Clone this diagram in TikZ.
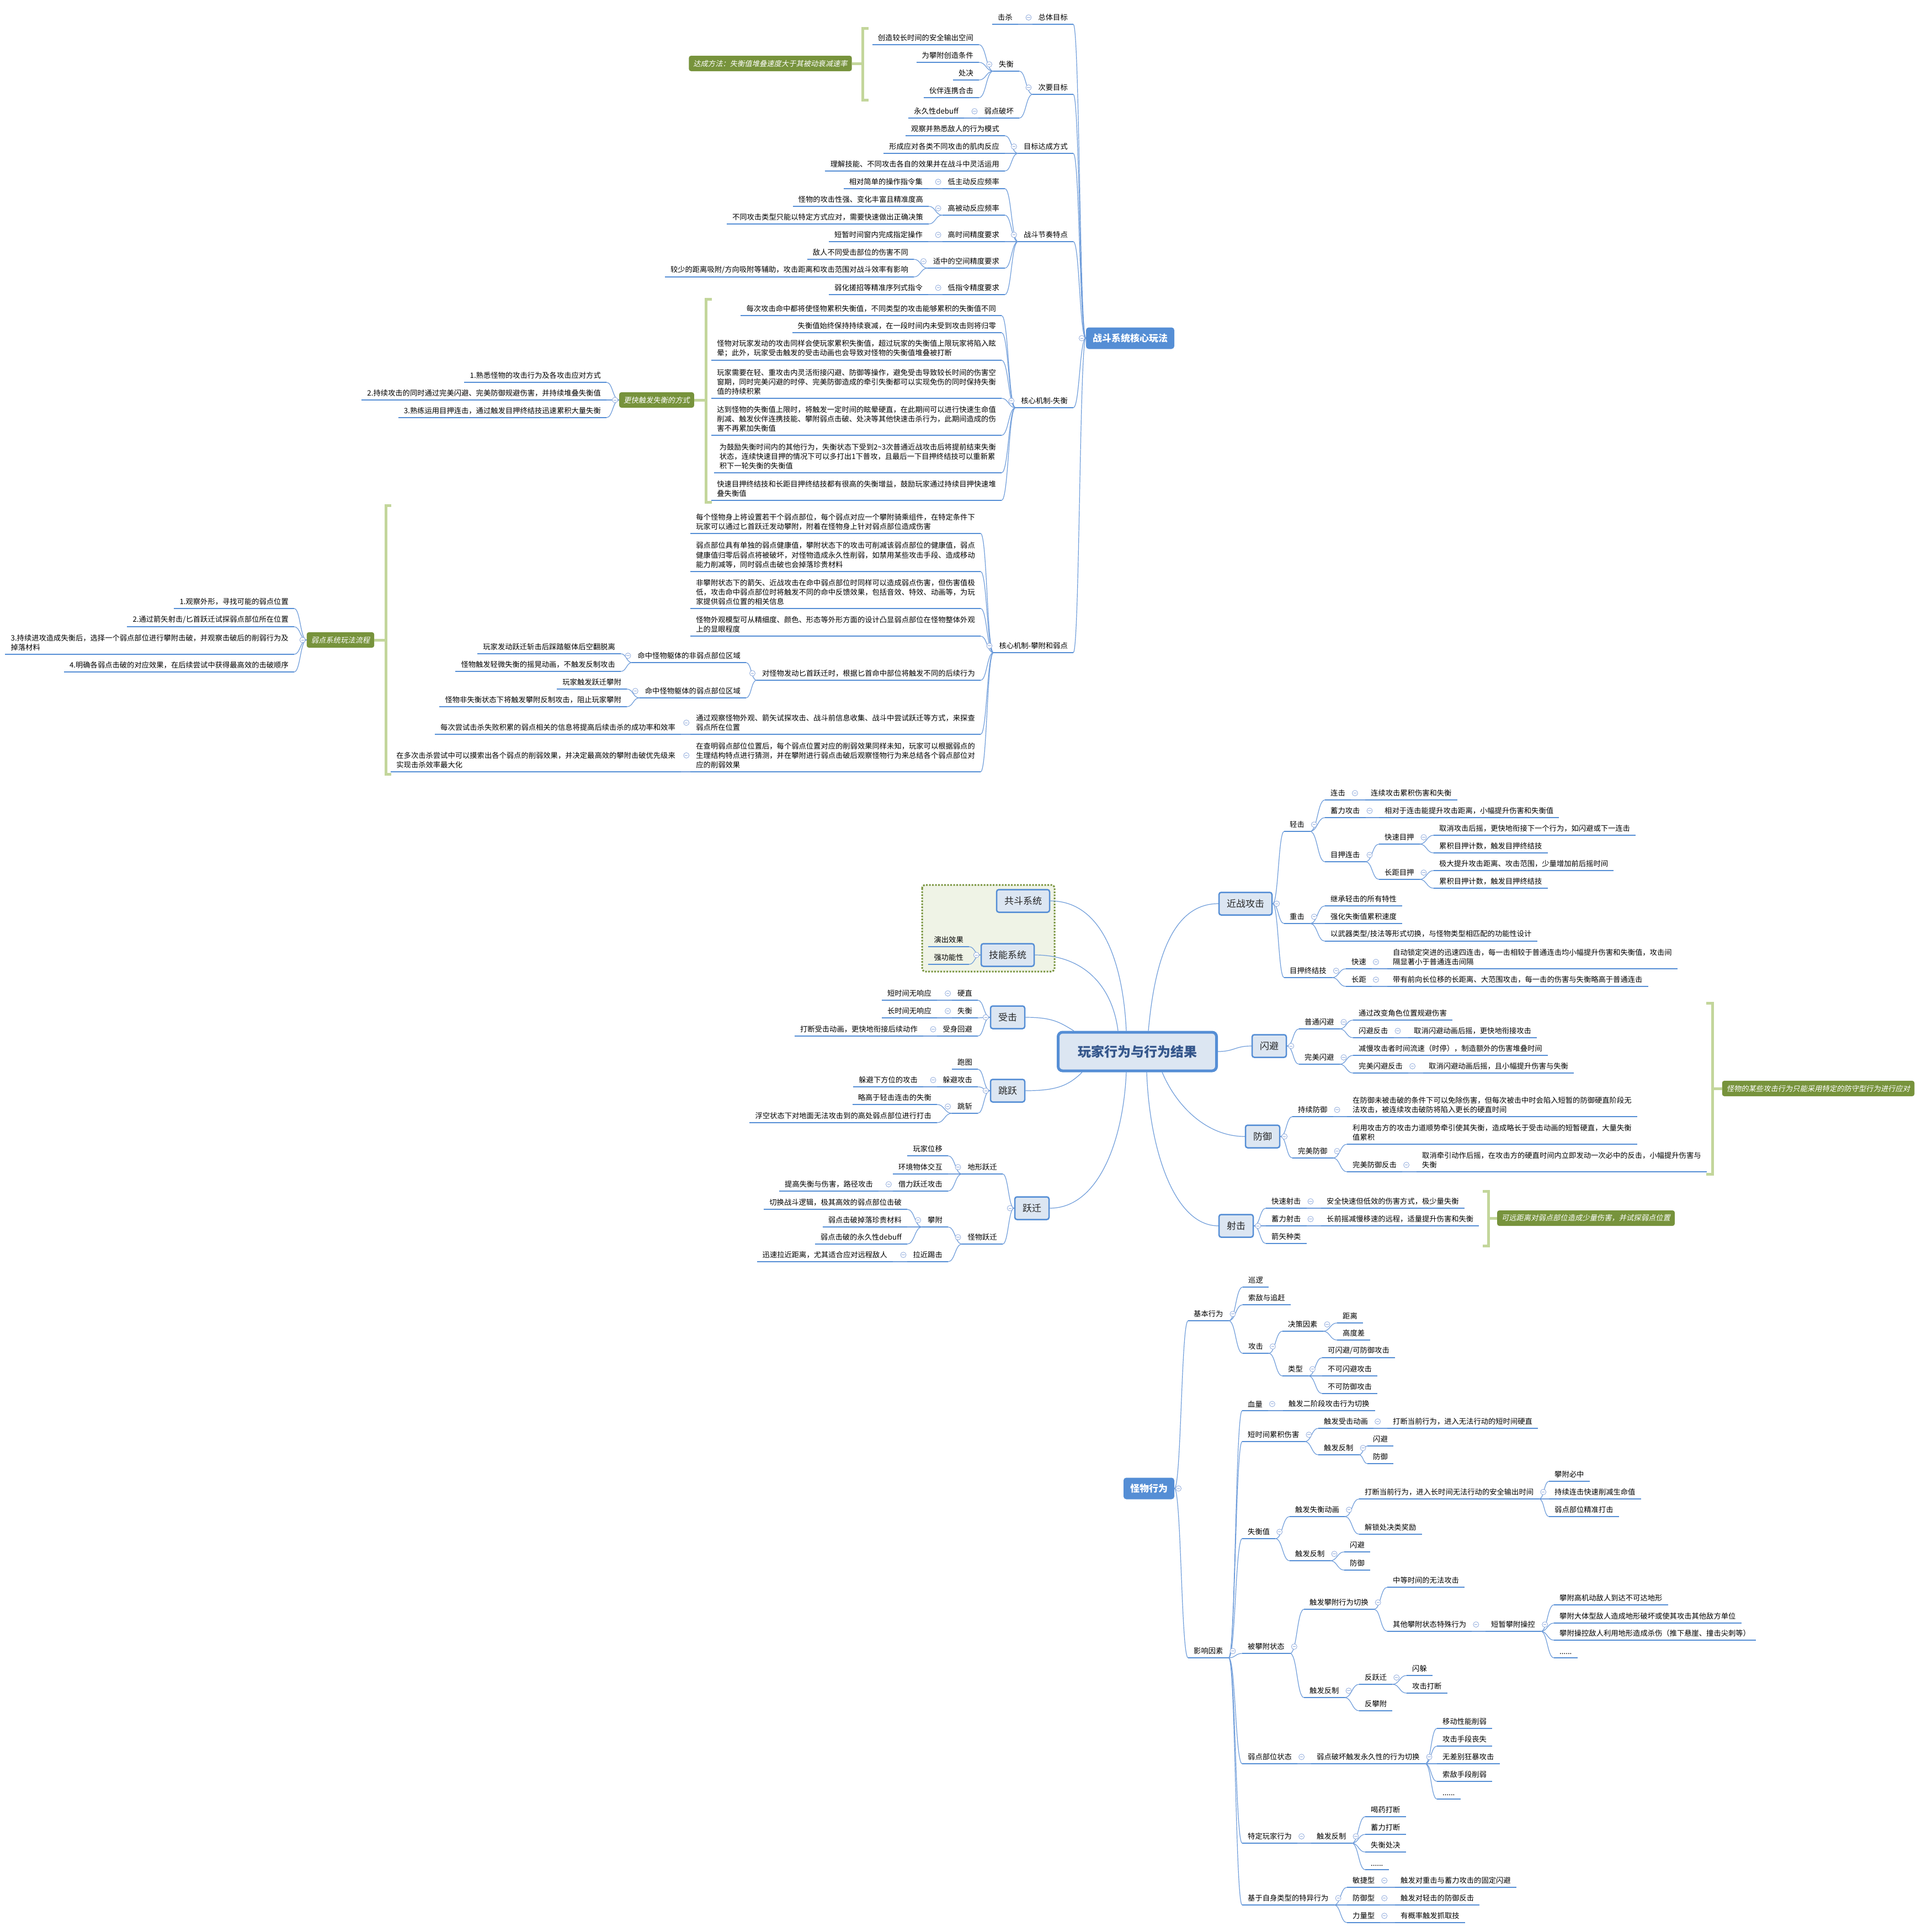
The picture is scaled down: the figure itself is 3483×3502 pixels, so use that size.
\documentclass[tikz,border=0pt]{standalone}
\usepackage{fontspec}
\setmainfont{Noto Sans CJK SC}[AutoFakeSlant=0.2]
\usetikzlibrary{calc}
\definecolor{mainblue}{HTML}{558ED5}
\definecolor{lineblue}{HTML}{558ED5}
\definecolor{connblue}{HTML}{6E9CDA}
\definecolor{boxfill}{HTML}{DCE6F2}
\definecolor{titleblue}{HTML}{34568B}
\definecolor{labelgreen}{HTML}{77933C}
\definecolor{brkgreen}{HTML}{C3D69B}
\definecolor{bndfill}{HTML}{EFF3E6}
\definecolor{circgray}{HTML}{8EA9DB}
\definecolor{textdark}{HTML}{000000}
\newcommand\leaffont{\fontsize{13.3}{17.3}\selectfont}
\newcommand\boxfont{\fontsize{17}{20}\selectfont}
\newcommand\titlefont{\fontsize{24}{28}\selectfont\bfseries}
\pgfdeclarelayer{bg}
\pgfdeclarelayer{lines}
\pgfsetlayers{bg,lines,main}
\tikzset{
  uline/.style={draw=lineblue, line width=2.8pt},
  ltp/.style={anchor=south east, inner xsep=10pt, inner ysep=6pt, font=\leaffont, align=left, text=textdark,
    append after command={(\tikzlastnode.south west) edge[uline] (\tikzlastnode.south east)}},
  rtp/.style={ltp, anchor=south west},
  colc/.style={circle, draw=circgray, fill=white, line width=0.8pt, minimum size=10pt, inner sep=0pt,
    path picture={\draw[circgray, line width=0.8pt] ([xshift=-2.6pt]path picture bounding box.center) -- ([xshift=2.6pt]path picture bounding box.center);}},
  colL/.style={label={[colc, label distance=2pt]west:}},
  colR/.style={label={[colc, label distance=2pt]east:}},
  l1box/.style={draw=mainblue, line width=2.5pt, fill=boxfill, rounded corners=4pt, font=\boxfont, text=textdark!85, minimum height=41pt, inner xsep=14pt},
  bluebox/.style={fill=mainblue, text=white, rounded corners=5pt, font={\boxfont\bfseries}, minimum height=39pt, inner xsep=12pt},
  grnbox/.style={fill=labelgreen, text=white, rounded corners=4pt, font={\leaffont\itshape}, minimum height=28pt, inner xsep=8pt},
  titlebox/.style={draw=mainblue, line width=5pt, fill=boxfill, rounded corners=8pt, font=\titlefont, text=titleblue, minimum width=287pt, minimum height=70pt},
  conn/.style={draw=connblue, line width=1.2pt},
  lk/.style={to path={.. controls ($(\tikztostart)!0.5!(\tikztotarget|-\tikztostart)$) and ($(\tikztotarget)!0.5!(\tikztostart|-\tikztotarget)$) .. (\tikztotarget)}},
  brk/.style={draw=brkgreen, line width=5pt},
  bnd/.style={draw=labelgreen, line width=3pt, dash pattern=on 3pt off 2.5pt, fill=bndfill, rounded corners=6pt}
}

\begin{document}
\begin{tikzpicture}[x=1pt, y=-1pt]
\begin{pgfonlayer}{bg}
\fill[white] (0,0) rectangle (3483,3502);
\draw[bnd] (1671,1604) rectangle (1911,1761);
\end{pgfonlayer}
\useasboundingbox (0,0) rectangle (3483,3502);

% centre
\node[titlebox] (cen) at (2061,1906) {玩家行为与行为结果};

% combat core
\node[bluebox, colL] (core) at (2048,613) {战斗系统核心玩法};
\node[ltp, colL] (goal) at (1945,44) {总体目标};
\node[ltp] (kill) at (1845,44) {击杀};
\node[ltp, colL] (subg) at (1945,171) {次要目标};
\node[ltp, colL] (imb) at (1847,129) {失衡};
\node[ltp] (imba) at (1774,81) {创造较长时间的安全输出空间};
\node[ltp] (imbb) at (1774,113) {为攀附创造条件};
\node[ltp] (imbc) at (1774,145) {处决};
\node[ltp] (imbd) at (1774,177) {伙伴连携合击};
\node[ltp, colL] (wkb) at (1847,214) {弱点破坏};
\node[ltp] (wkba) at (1747,214) {永久性debuff};
\node[grnbox] (howto) at (1396,115) {达成方法：失衡值堆叠速度大于其被动衰减速率};
\node[ltp, colL] (way) at (1945,278) {目标达成方式};
\node[ltp] (waya) at (1821,246) {观察并熟悉敌人的行为模式};
\node[ltp] (wayb) at (1821,278) {形成应对各类不同攻击的肌肉反应};
\node[ltp] (wayc) at (1821,310) {理解技能、不同攻击各自的效果并在战斗中灵活运用};
\node[ltp, colL] (rhy) at (1945,438) {战斗节奏特点};
\node[ltp, colL] (rha) at (1821,342) {低主动反应频率};
\node[ltp] (rhaa) at (1682,342) {相对简单的操作指令集};
\node[ltp, colL] (rhb) at (1821,390) {高被动反应频率};
\node[ltp] (rhba) at (1683,374) {怪物的攻击性强、变化丰富且精准度高};
\node[ltp] (rhbb) at (1683,406) {不同攻击类型只能以特定方式应对，需要快速做出正确决策};
\node[ltp, colL] (rhc) at (1821,438) {高时间精度要求};
\node[ltp] (rhca) at (1682,438) {短暂时间窗内完成指定操作};
\node[ltp, colL] (rhd) at (1821,486) {适中的空间精度要求};
\node[ltp] (rhda) at (1656,470) {敌人不同受击部位的伤害不同};
\node[ltp] (rhdb) at (1656,502) {较少的距离吸附/方向吸附等辅助，攻击距离和攻击范围对战斗效率有影响};
\node[ltp, colL] (rhe) at (1821,534) {低指令精度要求};
\node[ltp] (rhea) at (1682,534) {弱化搓招等精准序列式指令};

\node[ltp, colL] (bal) at (1945,739) {核心机制-失衡};
\node[ltp] (bala) at (1815,572) {每次攻击命中都将使怪物累积失衡值，不同类型的攻击能够累积的失衡值不同};
\node[ltp] (balb) at (1815,603) {失衡值始终保持持续衰减，在一段时间内未受到攻击则将归零};
\node[ltp] (balc) at (1815,653) {怪物对玩家发动的攻击同样会使玩家累积失衡值，超过玩家的失衡值上限玩家将陷入眩\\晕；此外，玩家受击触发的受击动画也会导致对怪物的失衡值堆叠被打断};
\node[ltp] (bald) at (1815,722) {玩家需要在轻、重攻击内灵活衔接闪避、防御等操作，避免受击导致较长时间的伤害空\\窗期，同时完美闪避的时停、完美防御造成的牵引失衡都可以实现免伤的同时保持失衡\\值的持续积累};
\node[ltp] (bale) at (1815,789) {达到怪物的失衡值上限时，将触发一定时间的眩晕硬直，在此期间可以进行快速生命值\\削减、触发伙伴连携技能、攀附弱点击破、处决等其他快速击杀行为，此期间造成的伤\\害不再累加失衡值};
\node[ltp] (balf) at (1815,857) {为鼓励失衡时间内的其他行为，失衡状态下受到2\textasciitilde 3次普通近战攻击后将提前结束失衡\\状态，连续快速目押的情况下可以多打出1下普攻，且最后一下目押终结技可以重新累\\积下一轮失衡的失衡值};
\node[ltp] (balg) at (1815,907) {快速目押终结技和长距目押终结技都有很高的失衡增益，鼓励玩家通过持续目押快速堆\\叠失衡值};
\node[grnbox, colL] (fast) at (1190,725) {更快触发失衡的方式};
\node[ltp] (fasta) at (1099,693) {1.熟悉怪物的攻击行为及各攻击应对方式};
\node[ltp] (fastb) at (1099,725) {2.持续攻击的同时通过完美闪避、完美防御规避伤害，并持续堆叠失衡值};
\node[ltp] (fastc) at (1099,757) {3.熟练运用目押连击，通过触发目押终结技迅速累积大量失衡};

\node[ltp, colL] (cling) at (1945,1183) {核心机制-攀附和弱点};
\node[ltp] (cla) at (1777,967) {每个怪物身上将设置若干个弱点部位，每个弱点对应一个攀附骑乘组件，在特定条件下\\玩家可以通过匕首跃迁发动攀附，附着在怪物身上针对弱点部位造成伤害};
\node[ltp] (clb) at (1777,1036) {弱点部位具有单独的弱点健康值，攀附状态下的攻击可削减该弱点部位的健康值，弱点\\健康值归零后弱点将被破坏，对怪物造成永久性削弱，如禁用某些攻击手段、造成移动\\能力削减等，同时弱点击破也会掉落珍贵材料};
\node[ltp] (clc) at (1777,1103) {非攀附状态下的箭矢、近战攻击在命中弱点部位时同样可以造成弱点伤害，但伤害值极\\低，攻击命中弱点部位时将触发不同的命中反馈效果，包括音效、特效、动画等，为玩\\家提供弱点位置的相关信息};
\node[ltp] (cld) at (1777,1153) {怪物外观模型可从精细度、颜色、形态等外形方面的设计凸显弱点部位在怪物整体外观\\上的显眼程度};
\node[ltp, colL] (cle) at (1777,1233) {对怪物发动匕首跃迁时，根据匕首命中部位将触发不同的后续行为};
\node[ltp, colL] (clea) at (1352,1201) {命中怪物躯体的非弱点部位区域};
\node[ltp] (clea1) at (1125,1185) {玩家发动跃迁斩击后踩踏躯体后空翻脱离};
\node[ltp] (clea2) at (1125,1217) {怪物触发轻微失衡的摇晃动画，不触发反制攻击};
\node[ltp, colL] (cleb) at (1352,1265) {命中怪物躯体的弱点部位区域};
\node[ltp] (cleb1) at (1136,1249) {玩家触发跃迁攀附};
\node[ltp] (cleb2) at (1136,1281) {怪物非失衡状态下将触发攀附反制攻击，阻止玩家攀附};
\node[ltp, colL] (clf) at (1777,1331) {通过观察怪物外观、箭矢试探攻击、战斗前信息收集、战斗中尝试跃迁等方式，来探查\\弱点所在位置};
\node[ltp] (clfa) at (1234,1331) {每次尝试击杀失败积累的弱点相关的信息将提高后续击杀的成功率和效率};
\node[ltp, colL] (clg) at (1777,1399) {在查明弱点部位位置后，每个弱点位置对应的削弱效果同样未知，玩家可以根据弱点的\\生理结构特点进行猜测，并在攀附进行弱点击破后观察怪物行为来总结各个弱点部位对\\应的削弱效果};
\node[ltp] (clga) at (1234,1399) {在多次击杀尝试中可以摸索出各个弱点的削弱效果，并决定最高效的攀附击破优先级来\\实现击杀效率最大化};
\node[grnbox, colL] (flow) at (617,1160) {弱点系统玩法流程};
\node[ltp] (flowa) at (533,1103) {1.观察外形，寻找可能的弱点位置};
\node[ltp] (flowb) at (533,1136) {2.通过箭矢射击/匕首跃迁试探弱点部位所在位置};
\node[ltp] (flowc) at (533,1186) {3.持续进攻造成失衡后，选择一个弱点部位进行攀附击破，并观察击破后的削弱行为及\\掉落材料};
\node[ltp] (flowd) at (533,1218) {4.明确各弱点击破的对应效果，在后续尝试中获得最高效的击破顺序};

% left of centre
\node[l1box] (coop) at (1854,1633) {共斗系统};
\node[l1box, colL] (skill) at (1826,1731) {技能系统};
\node[ltp] (skilla) at (1756,1716) {演出效果};
\node[ltp] (skillb) at (1756,1748) {强功能性};
\node[l1box, colL] (hit) at (1826,1844) {受击};
\node[ltp, colL] (hita) at (1772,1813) {硬直};
\node[ltp] (hita1) at (1698,1813) {短时间无响应};
\node[ltp, colL] (hitb) at (1772,1845) {失衡};
\node[ltp] (hitb1) at (1698,1845) {长时间无响应};
\node[ltp, colL] (hitc) at (1772,1878) {受身回避};
\node[ltp] (hitc1) at (1673,1878) {打断受击动画，更快地衔接后续动作};
\node[l1box, colL] (jump) at (1826,1977) {跳跃};
\node[ltp] (jumpa) at (1772,1938) {跑图};
\node[ltp, colL] (jumpb) at (1772,1970) {躲避攻击};
\node[ltp] (jumpb1) at (1673,1970) {躲避下方位的攻击};
\node[ltp, colL] (jumpc) at (1772,2018) {跳斩};
\node[ltp] (jumpc1) at (1698,2002) {略高于轻击连击的失衡};
\node[ltp] (jumpc2) at (1698,2035) {浮空状态下对地面无法攻击到的高处弱点部位进行打击};
\node[l1box, colL] (leap) at (1870,2190) {跃迁};
\node[ltp, colL] (leapa) at (1817,2128) {地形跃迁};
\node[ltp] (leapa1) at (1718,2095) {玩家位移};
\node[ltp] (leapa2) at (1718,2128) {环境物体交互};
\node[ltp, colL] (leapa3) at (1718,2159) {借力跃迁攻击};
\node[ltp] (leapa3a) at (1592,2159) {提高失衡与伤害，路径攻击};
\node[ltp, colL] (leapb) at (1817,2255) {怪物跃迁};
\node[ltp, colL] (leapb1) at (1718,2224) {攀附};
\node[ltp] (leapb1a) at (1644,2192) {切换战斗逻辑，极其高效的弱点部位击破};
\node[ltp] (leapb1b) at (1644,2224) {弱点击破掉落珍贵材料};
\node[ltp] (leapb1c) at (1644,2255) {弱点击破的永久性debuff};
\node[ltp, colL] (leapb2) at (1718,2287) {拉近踢击};
\node[ltp] (leapb2a) at (1618,2287) {迅速拉近距离，尤其适合应对远程敌人};

% right of centre
\node[l1box, colR] (melee) at (2257,1638) {近战攻击};
\node[rtp, colR] (mla) at (2327,1507) {轻击};
\node[rtp, colR] (mlaa) at (2401,1450) {连击};
\node[rtp] (mlaa1) at (2474,1450) {连续攻击累积伤害和失衡};
\node[rtp, colR] (mlab) at (2401,1482) {蓄力攻击};
\node[rtp] (mlab1) at (2499,1482) {相对于连击能提升攻击距离，小幅提升伤害和失衡值};
\node[rtp, colR] (mlac) at (2401,1562) {目押连击};
\node[rtp, colR] (mlaca) at (2499,1530) {快速目押};
\node[rtp] (mlaca1) at (2598,1514) {取消攻击后摇，更快地衔接下一个行为，如闪避或下一连击};
\node[rtp] (mlaca2) at (2598,1546) {累积目押计数，触发目押终结技};
\node[rtp, colR] (mlacb) at (2499,1594) {长距目押};
\node[rtp] (mlacb1) at (2598,1578) {极大提升攻击距离、攻击范围，少量增加前后摇时间};
\node[rtp] (mlacb2) at (2598,1610) {累积目押计数，触发目押终结技};
\node[rtp, colR] (mlb) at (2327,1674) {重击};
\node[rtp] (mlba) at (2401,1642) {继承轻击的所有特性};
\node[rtp] (mlbb) at (2401,1674) {强化失衡值累积速度};
\node[rtp] (mlbc) at (2401,1706) {以武器类型/技法等形式切换，与怪物类型相匹配的功能性设计};
\node[rtp, colR] (mlc) at (2327,1772) {目押终结技};
\node[rtp, colR] (mlca) at (2439,1756) {快速};
\node[rtp] (mlca1) at (2514,1756) {自动锁定突进的迅速四连击，每一击相较于普通连击均小幅提升伤害和失衡值，攻击间\\隔显著小于普通连击间隔};
\node[rtp, colR] (mlcb) at (2439,1788) {长距};
\node[rtp] (mlcb1) at (2514,1788) {带有前向长位移的长距离、大范围攻击，每一击的伤害与失衡略高于普通连击};

\node[l1box, colR] (dodge) at (2300,1896) {闪避};
\node[rtp, colR] (dga) at (2354,1865) {普通闪避};
\node[rtp] (dgaa) at (2452,1849) {通过改变角色位置规避伤害};
\node[rtp, colR] (dgab) at (2452,1881) {闪避反击};
\node[rtp] (dgab1) at (2552,1881) {取消闪避动画后摇，更快地衔接攻击};
\node[rtp, colR] (dgb) at (2354,1929) {完美闪避};
\node[rtp] (dgba) at (2452,1913) {减慢攻击者时间流速（时停），制造额外的伤害堆叠时间};
\node[rtp, colR] (dgbb) at (2452,1945) {完美闪避反击};
\node[rtp] (dgbb1) at (2579,1945) {取消闪避动画后摇，且小幅提升伤害与失衡};

\node[l1box, colR] (guard) at (2288,2060) {防御};
\node[rtp, colR] (gda) at (2342,2024) {持续防御};
\node[rtp] (gda1) at (2441,2024) {在防御未被击破的条件下可以免除伤害，但每次被击中时会陷入短暂的防御硬直阶段无\\法攻击，被连续攻击破防将陷入更长的硬直时间};
\node[rtp, colR] (gdb) at (2342,2099) {完美防御};
\node[rtp] (gdba) at (2441,2074) {利用攻击方的攻击力道顺势牵引使其失衡，造成略长于受击动画的短暂硬直，大量失衡\\值累积};
\node[rtp, colR] (gdbb) at (2441,2124) {完美防御反击};
\node[rtp] (gdbb1) at (2567,2124) {取消牵引动作后摇，在攻击方的硬直时间内立即发动一次必中的反击，小幅提升伤害与\\失衡};
\node[grnbox] (defl) at (3295,1973) {怪物的某些攻击行为只能采用特定的防守型行为进行应对};

\node[l1box, colR] (shoot) at (2240,2222) {射击};
\node[rtp, colR] (sha) at (2294,2190) {快速射击};
\node[rtp] (sha1) at (2394,2190) {安全快速但低效的伤害方式，极少量失衡};
\node[rtp, colR] (shb) at (2294,2222) {蓄力射击};
\node[rtp] (shb1) at (2394,2222) {长前摇减慢移速的远程，适量提升伤害和失衡};
\node[rtp] (shc) at (2294,2254) {箭矢种类};
\node[grnbox] (shtl) at (2874,2208) {可远距离对弱点部位造成少量伤害，并试探弱点位置};

% monster behaviour
\node[bluebox, colR] (mon) at (2082,2698) {怪物行为};
\node[rtp, colR] (mba) at (2153,2394) {基本行为};
\node[rtp] (mbaa) at (2252,2333) {巡逻};
\node[rtp] (mbab) at (2252,2365) {索敌与追赶};
\node[rtp, colR] (mbac) at (2252,2453) {攻击};
\node[rtp, colR] (mbaca) at (2324,2413) {决策因素};
\node[rtp] (dist) at (2423,2398) {距离};
\node[rtp] (hdiff) at (2423,2429) {高度差};
\node[rtp, colR] (mbacb) at (2324,2494) {类型};
\node[rtp] (tya) at (2396,2461) {可闪避/可防御攻击};
\node[rtp] (tyb) at (2396,2494) {不可闪避攻击};
\node[rtp] (tyc) at (2396,2526) {不可防御攻击};
\node[rtp, colR] (mbb) at (2153,3005) {影响因素};
\node[rtp, colR] (hp) at (2251,2557) {血量};
\node[rtp] (hpa) at (2325,2557) {触发二阶段攻击行为切换};
\node[rtp, colR] (burst) at (2251,2613) {短时间累积伤害};
\node[rtp, colR] (bursta) at (2389,2589) {触发受击动画};
\node[rtp] (bursta1) at (2514,2589) {打断当前行为，进入无法行动的短时间硬直};
\node[rtp, colR] (burstb) at (2389,2637) {触发反制};
\node[rtp] (burstb1) at (2478,2621) {闪避};
\node[rtp] (burstb2) at (2478,2653) {防御};
\node[rtp, colR] (stag) at (2251,2789) {失衡值};
\node[rtp, colR] (staga) at (2337,2749) {触发失衡动画};
\node[rtp, colR] (staga1) at (2463,2717) {打断当前行为，进入长时间无法行动的安全输出时间};
\node[rtp] (staga1a) at (2807,2685) {攀附必中};
\node[rtp] (staga1b) at (2807,2717) {持续连击快速削减生命值};
\node[rtp] (staga1c) at (2807,2749) {弱点部位精准打击};
\node[rtp] (staga2) at (2463,2781) {解锁处决类奖励};
\node[rtp, colR] (stagb) at (2337,2829) {触发反制};
\node[rtp] (stagb1) at (2436,2813) {闪避};
\node[rtp] (stagb2) at (2436,2846) {防御};
\node[rtp, colR] (grab) at (2251,2997) {被攀附状态};
\node[rtp, colR] (graba) at (2363,2917) {触发攀附行为切换};
\node[rtp] (graba1) at (2514,2877) {中等时间的无法攻击};
\node[rtp, colR] (graba2) at (2514,2957) {其他攀附状态特殊行为};
\node[rtp, colR] (ctl) at (2692,2957) {短暂攀附操控};
\node[rtp] (ctla) at (2816,2909) {攀附高机动敌人到达不可达地形};
\node[rtp] (ctlb) at (2816,2942) {攀附大体型敌人造成地形破坏或使其攻击其他敌方单位};
\node[rtp] (ctlc) at (2816,2973) {攀附操控敌人利用地形造成杀伤（推下悬崖、撞击尖刺等）};
\node[rtp] (ctld) at (2816,3005) {......};
\node[rtp, colR] (grabb) at (2363,3077) {触发反制};
\node[rtp, colR] (grabb1) at (2463,3053) {反跃迁};
\node[rtp] (grabb1a) at (2549,3037) {闪躲};
\node[rtp] (grabb1b) at (2549,3069) {攻击打断};
\node[rtp] (grabb2) at (2463,3101) {反攀附};
\node[rtp, colR] (weak) at (2251,3197) {弱点部位状态};
\node[rtp, colR] (weaka) at (2376,3197) {弱点破坏触发永久性的行为切换};
\node[rtp] (weaka1) at (2604,3133) {移动性能削弱};
\node[rtp] (weaka2) at (2604,3165) {攻击手段丧失};
\node[rtp] (weaka3) at (2604,3197) {无差别狂暴攻击};
\node[rtp] (weaka4) at (2604,3229) {索敌手段削弱};
\node[rtp] (weaka5) at (2604,3261) {......};
\node[rtp, colR] (spec) at (2251,3341) {特定玩家行为};
\node[rtp, colR] (speca) at (2376,3341) {触发反制};
\node[rtp] (speca1) at (2474,3293) {喝药打断};
\node[rtp] (speca2) at (2474,3325) {蓄力打断};
\node[rtp] (speca3) at (2474,3357) {失衡处决};
\node[rtp] (speca4) at (2474,3389) {......};
\node[rtp, colR] (kind) at (2251,3453) {基于自身类型的特异行为};
\node[rtp, colR] (kinda) at (2441,3421) {敏捷型};
\node[rtp] (kinda1) at (2528,3421) {触发对重击与蓄力攻击的固定闪避};
\node[rtp, colR] (kindb) at (2441,3453) {防御型};
\node[rtp] (kindb1) at (2528,3453) {触发对轻击的防御反击};
\node[rtp, colR] (kindc) at (2441,3485) {力量型};
\node[rtp] (kindc1) at (2528,3485) {有概率触发抓取技};

% brackets
\draw[brk] (1574,51) -- (1563,51) -- (1563,181) -- (1574,181);
\draw[brk] (howto.east) -- (1563,115);
\draw[brk] (1290,542) -- (1279,542) -- (1279,910) -- (1290,910);
\draw[brk] (fast.east) -- (1279,725);
\draw[brk] (709,916) -- (699,916) -- (699,1403) -- (709,1403);
\draw[brk] (flow.east) -- (699,1160);
\draw[brk] (3092,1818) -- (3103,1818) -- (3103,2128) -- (3092,2128);
\draw[brk] (3103,1973) -- (defl.west);
\draw[brk] (2687,2159) -- (2697,2159) -- (2697,2258) -- (2687,2258);
\draw[brk] (2697,2208) -- (shtl.west);

\begin{pgfonlayer}{lines}
% centre links
\draw[conn] (coop.east) .. controls +(100,0) and +(-5,-110) .. ([xshift=-20pt]cen.north);
\draw[conn] (skill.east) .. controls +(90,0) and +(-10,-80) .. ([xshift=-35pt]cen.north);
\draw[conn] (hit.east) .. controls +(50,0) and +(-25,-15) .. ([xshift=-115pt]cen.north);
\draw[conn] (jump.east) .. controls +(55,0) and +(-25,25) .. ([xshift=-100pt]cen.south);
\draw[conn] (leap.east) .. controls +(90,0) and +(-5,120) .. ([xshift=-20pt]cen.south);
\draw[conn] ([xshift=20pt]cen.north) .. controls +(10,-110) and +(-90,0) .. (melee.west);
\draw[conn] (cen.east) .. controls +(30,0) and +(-30,0) .. (dodge.west);
\draw[conn] ([xshift=45pt]cen.south) .. controls +(25,60) and +(-70,0) .. (guard.west);
\draw[conn] ([xshift=17pt]cen.south) .. controls +(5,140) and +(-80,0) .. (shoot.west);

% combat core links
\draw[conn] (core.west) to[lk] (goal.south east);
\draw[conn] (core.west) to[lk] (subg.south east);
\draw[conn] (core.west) to[lk] (way.south east);
\draw[conn] (core.west) to[lk] (rhy.south east);
\draw[conn] (core.west) to[lk] (bal.south east);
\draw[conn] (core.west) to[lk] (cling.south east);
\draw[conn] (goal.south west) to[lk] (kill.south east);
\draw[conn] (subg.south west) to[lk] (imb.south east);
\draw[conn] (subg.south west) to[lk] (wkb.south east);
\draw[conn] (imb.south west) to[lk] (imba.south east);
\draw[conn] (imb.south west) to[lk] (imbb.south east);
\draw[conn] (imb.south west) to[lk] (imbc.south east);
\draw[conn] (imb.south west) to[lk] (imbd.south east);
\draw[conn] (wkb.south west) to[lk] (wkba.south east);
\draw[conn] (way.south west) to[lk] (waya.south east);
\draw[conn] (way.south west) to[lk] (wayb.south east);
\draw[conn] (way.south west) to[lk] (wayc.south east);
\draw[conn] (rhy.south west) to[lk] (rha.south east);
\draw[conn] (rhy.south west) to[lk] (rhb.south east);
\draw[conn] (rhy.south west) to[lk] (rhc.south east);
\draw[conn] (rhy.south west) to[lk] (rhd.south east);
\draw[conn] (rhy.south west) to[lk] (rhe.south east);
\draw[conn] (rha.south west) to[lk] (rhaa.south east);
\draw[conn] (rhb.south west) to[lk] (rhba.south east);
\draw[conn] (rhb.south west) to[lk] (rhbb.south east);
\draw[conn] (rhc.south west) to[lk] (rhca.south east);
\draw[conn] (rhd.south west) to[lk] (rhda.south east);
\draw[conn] (rhd.south west) to[lk] (rhdb.south east);
\draw[conn] (rhe.south west) to[lk] (rhea.south east);
\draw[conn] (bal.south west) to[lk] (bala.south east);
\draw[conn] (bal.south west) to[lk] (balb.south east);
\draw[conn] (bal.south west) to[lk] (balc.south east);
\draw[conn] (bal.south west) to[lk] (bald.south east);
\draw[conn] (bal.south west) to[lk] (bale.south east);
\draw[conn] (bal.south west) to[lk] (balf.south east);
\draw[conn] (bal.south west) to[lk] (balg.south east);
\draw[conn] (fast.west) to[lk] (fasta.south east);
\draw[conn] (fast.west) to[lk] (fastb.south east);
\draw[conn] (fast.west) to[lk] (fastc.south east);
\draw[conn] (cling.south west) to[lk] (cla.south east);
\draw[conn] (cling.south west) to[lk] (clb.south east);
\draw[conn] (cling.south west) to[lk] (clc.south east);
\draw[conn] (cling.south west) to[lk] (cld.south east);
\draw[conn] (cling.south west) to[lk] (cle.south east);
\draw[conn] (cling.south west) to[lk] (clf.south east);
\draw[conn] (cling.south west) to[lk] (clg.south east);
\draw[conn] (cle.south west) to[lk] (clea.south east);
\draw[conn] (cle.south west) to[lk] (cleb.south east);
\draw[conn] (clea.south west) to[lk] (clea1.south east);
\draw[conn] (clea.south west) to[lk] (clea2.south east);
\draw[conn] (cleb.south west) to[lk] (cleb1.south east);
\draw[conn] (cleb.south west) to[lk] (cleb2.south east);
\draw[conn] (clf.south west) to[lk] (clfa.south east);
\draw[conn] (clg.south west) to[lk] (clga.south east);
\draw[conn] (flow.west) to[lk] (flowa.south east);
\draw[conn] (flow.west) to[lk] (flowb.south east);
\draw[conn] (flow.west) to[lk] (flowc.south east);
\draw[conn] (flow.west) to[lk] (flowd.south east);

% left branch links
\draw[conn] (skill.west) to[lk] (skilla.south east);
\draw[conn] (skill.west) to[lk] (skillb.south east);
\draw[conn] (hit.west) to[lk] (hita.south east);
\draw[conn] (hit.west) to[lk] (hitb.south east);
\draw[conn] (hit.west) to[lk] (hitc.south east);
\draw[conn] (hita.south west) to[lk] (hita1.south east);
\draw[conn] (hitb.south west) to[lk] (hitb1.south east);
\draw[conn] (hitc.south west) to[lk] (hitc1.south east);
\draw[conn] (jump.west) to[lk] (jumpa.south east);
\draw[conn] (jump.west) to[lk] (jumpb.south east);
\draw[conn] (jump.west) to[lk] (jumpc.south east);
\draw[conn] (jumpb.south west) to[lk] (jumpb1.south east);
\draw[conn] (jumpc.south west) to[lk] (jumpc1.south east);
\draw[conn] (jumpc.south west) to[lk] (jumpc2.south east);
\draw[conn] (leap.west) to[lk] (leapa.south east);
\draw[conn] (leap.west) to[lk] (leapb.south east);
\draw[conn] (leapa.south west) to[lk] (leapa1.south east);
\draw[conn] (leapa.south west) to[lk] (leapa2.south east);
\draw[conn] (leapa.south west) to[lk] (leapa3.south east);
\draw[conn] (leapa3.south west) to[lk] (leapa3a.south east);
\draw[conn] (leapb.south west) to[lk] (leapb1.south east);
\draw[conn] (leapb.south west) to[lk] (leapb2.south east);
\draw[conn] (leapb1.south west) to[lk] (leapb1a.south east);
\draw[conn] (leapb1.south west) to[lk] (leapb1b.south east);
\draw[conn] (leapb1.south west) to[lk] (leapb1c.south east);
\draw[conn] (leapb2.south west) to[lk] (leapb2a.south east);

% right branch links
\draw[conn] (melee.east) to[lk] (mla.south west);
\draw[conn] (melee.east) to[lk] (mlb.south west);
\draw[conn] (melee.east) to[lk] (mlc.south west);
\draw[conn] (mla.south east) to[lk] (mlaa.south west);
\draw[conn] (mla.south east) to[lk] (mlab.south west);
\draw[conn] (mla.south east) to[lk] (mlac.south west);
\draw[conn] (mlaa.south east) to[lk] (mlaa1.south west);
\draw[conn] (mlab.south east) to[lk] (mlab1.south west);
\draw[conn] (mlac.south east) to[lk] (mlaca.south west);
\draw[conn] (mlac.south east) to[lk] (mlacb.south west);
\draw[conn] (mlaca.south east) to[lk] (mlaca1.south west);
\draw[conn] (mlaca.south east) to[lk] (mlaca2.south west);
\draw[conn] (mlacb.south east) to[lk] (mlacb1.south west);
\draw[conn] (mlacb.south east) to[lk] (mlacb2.south west);
\draw[conn] (mlb.south east) to[lk] (mlba.south west);
\draw[conn] (mlb.south east) to[lk] (mlbb.south west);
\draw[conn] (mlb.south east) to[lk] (mlbc.south west);
\draw[conn] (mlc.south east) to[lk] (mlca.south west);
\draw[conn] (mlc.south east) to[lk] (mlcb.south west);
\draw[conn] (mlca.south east) to[lk] (mlca1.south west);
\draw[conn] (mlcb.south east) to[lk] (mlcb1.south west);
\draw[conn] (dodge.east) to[lk] (dga.south west);
\draw[conn] (dodge.east) to[lk] (dgb.south west);
\draw[conn] (dga.south east) to[lk] (dgaa.south west);
\draw[conn] (dga.south east) to[lk] (dgab.south west);
\draw[conn] (dgab.south east) to[lk] (dgab1.south west);
\draw[conn] (dgb.south east) to[lk] (dgba.south west);
\draw[conn] (dgb.south east) to[lk] (dgbb.south west);
\draw[conn] (dgbb.south east) to[lk] (dgbb1.south west);
\draw[conn] (guard.east) to[lk] (gda.south west);
\draw[conn] (guard.east) to[lk] (gdb.south west);
\draw[conn] (gda.south east) to[lk] (gda1.south west);
\draw[conn] (gdb.south east) to[lk] (gdba.south west);
\draw[conn] (gdb.south east) to[lk] (gdbb.south west);
\draw[conn] (gdbb.south east) to[lk] (gdbb1.south west);
\draw[conn] (shoot.east) to[lk] (sha.south west);
\draw[conn] (shoot.east) to[lk] (shb.south west);
\draw[conn] (shoot.east) to[lk] (shc.south west);
\draw[conn] (sha.south east) to[lk] (sha1.south west);
\draw[conn] (shb.south east) to[lk] (shb1.south west);

% monster links
\draw[conn] (mon.east) to[lk] (mba.south west);
\draw[conn] (mon.east) to[lk] (mbb.south west);
\draw[conn] (mba.south east) to[lk] (mbaa.south west);
\draw[conn] (mba.south east) to[lk] (mbab.south west);
\draw[conn] (mba.south east) to[lk] (mbac.south west);
\draw[conn] (mbac.south east) to[lk] (mbaca.south west);
\draw[conn] (mbac.south east) to[lk] (mbacb.south west);
\draw[conn] (mbaca.south east) to[lk] (dist.south west);
\draw[conn] (mbaca.south east) to[lk] (hdiff.south west);
\draw[conn] (mbacb.south east) to[lk] (tya.south west);
\draw[conn] (mbacb.south east) to[lk] (tyb.south west);
\draw[conn] (mbacb.south east) to[lk] (tyc.south west);
\draw[conn] (mbb.south east) to[lk] (hp.south west);
\draw[conn] (mbb.south east) to[lk] (burst.south west);
\draw[conn] (mbb.south east) to[lk] (stag.south west);
\draw[conn] (mbb.south east) to[lk] (grab.south west);
\draw[conn] (mbb.south east) to[lk] (weak.south west);
\draw[conn] (mbb.south east) to[lk] (spec.south west);
\draw[conn] (mbb.south east) to[lk] (kind.south west);
\draw[conn] (hp.south east) to[lk] (hpa.south west);
\draw[conn] (burst.south east) to[lk] (bursta.south west);
\draw[conn] (burst.south east) to[lk] (burstb.south west);
\draw[conn] (bursta.south east) to[lk] (bursta1.south west);
\draw[conn] (burstb.south east) to[lk] (burstb1.south west);
\draw[conn] (burstb.south east) to[lk] (burstb2.south west);
\draw[conn] (stag.south east) to[lk] (staga.south west);
\draw[conn] (stag.south east) to[lk] (stagb.south west);
\draw[conn] (staga.south east) to[lk] (staga1.south west);
\draw[conn] (staga.south east) to[lk] (staga2.south west);
\draw[conn] (staga1.south east) to[lk] (staga1a.south west);
\draw[conn] (staga1.south east) to[lk] (staga1b.south west);
\draw[conn] (staga1.south east) to[lk] (staga1c.south west);
\draw[conn] (stagb.south east) to[lk] (stagb1.south west);
\draw[conn] (stagb.south east) to[lk] (stagb2.south west);
\draw[conn] (grab.south east) to[lk] (graba.south west);
\draw[conn] (grab.south east) to[lk] (grabb.south west);
\draw[conn] (graba.south east) to[lk] (graba1.south west);
\draw[conn] (graba.south east) to[lk] (graba2.south west);
\draw[conn] (graba2.south east) to[lk] (ctl.south west);
\draw[conn] (ctl.south east) to[lk] (ctla.south west);
\draw[conn] (ctl.south east) to[lk] (ctlb.south west);
\draw[conn] (ctl.south east) to[lk] (ctlc.south west);
\draw[conn] (ctl.south east) to[lk] (ctld.south west);
\draw[conn] (grabb.south east) to[lk] (grabb1.south west);
\draw[conn] (grabb.south east) to[lk] (grabb2.south west);
\draw[conn] (grabb1.south east) to[lk] (grabb1a.south west);
\draw[conn] (grabb1.south east) to[lk] (grabb1b.south west);
\draw[conn] (weak.south east) to[lk] (weaka.south west);
\draw[conn] (weaka.south east) to[lk] (weaka1.south west);
\draw[conn] (weaka.south east) to[lk] (weaka2.south west);
\draw[conn] (weaka.south east) to[lk] (weaka3.south west);
\draw[conn] (weaka.south east) to[lk] (weaka4.south west);
\draw[conn] (weaka.south east) to[lk] (weaka5.south west);
\draw[conn] (spec.south east) to[lk] (speca.south west);
\draw[conn] (speca.south east) to[lk] (speca1.south west);
\draw[conn] (speca.south east) to[lk] (speca2.south west);
\draw[conn] (speca.south east) to[lk] (speca3.south west);
\draw[conn] (speca.south east) to[lk] (speca4.south west);
\draw[conn] (kind.south east) to[lk] (kinda.south west);
\draw[conn] (kind.south east) to[lk] (kindb.south west);
\draw[conn] (kind.south east) to[lk] (kindc.south west);
\draw[conn] (kinda.south east) to[lk] (kinda1.south west);
\draw[conn] (kindb.south east) to[lk] (kindb1.south west);
\draw[conn] (kindc.south east) to[lk] (kindc1.south west);
\end{pgfonlayer}
\end{tikzpicture}
\end{document}
